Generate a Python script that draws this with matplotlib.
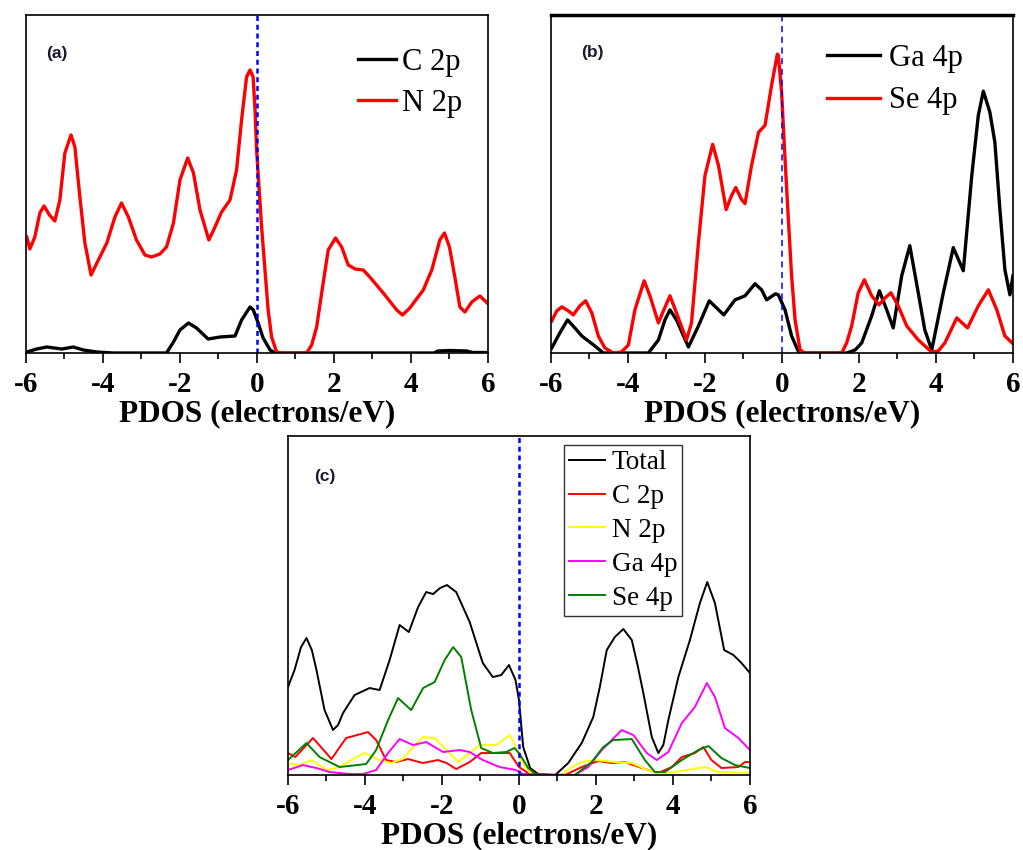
import matplotlib
matplotlib.use("Agg")
import matplotlib.pyplot as plt
from matplotlib.ticker import MultipleLocator

plt.rcParams['font.family'] = ['Liberation Serif', 'DejaVu Serif']
plt.rcParams['axes.unicode_minus'] = False

# ---- panel (a): C 2p / N 2p ----
a_n2p_e = [-5.98, -5.90, -5.77, -5.64, -5.53, -5.39, -5.25, -5.12, -4.99, -4.83, -4.73, -4.60,
           -4.47, -4.31, -4.12, -3.90, -3.69, -3.52, -3.34, -3.13, -2.91, -2.74, -2.52, -2.35,
           -2.17, -2.00, -1.80, -1.65, -1.48, -1.25, -1.09, -0.92, -0.70, -0.53, -0.40, -0.27,
           -0.18, -0.10, -0.05, -0.01, 0.12, 0.29, 0.38, 0.51, 0.68, 1.29, 1.42, 1.55, 1.68,
           1.85, 2.04, 2.20, 2.37, 2.55, 2.76, 2.93, 3.28, 3.63, 3.78, 3.97, 4.32, 4.54, 4.75,
           4.87, 5.00, 5.14, 5.27, 5.40, 5.58, 5.79, 5.98]
a_n2p = [116, 104, 116, 140, 147, 138, 132, 153, 200, 218, 206, 156,
         110, 78, 93, 110, 136, 150, 136, 113, 98, 96, 99, 106,
         130, 173, 195, 180, 143, 113, 126, 141, 153, 183, 233, 276,
         283, 276, 243, 203, 126, 43, 16, 1, 0, 0, 8, 26, 60,
         103, 115, 106, 88, 84, 83, 76, 60, 43, 38, 45, 63, 83, 113,
         120, 106, 76, 46, 41, 51, 57, 50]

a_c2p_e = [-5.98, -5.72, -5.46, -5.07, -4.77, -4.51, -4.16, -3.73, -2.35, -2.17, -2.00, -1.78,
           -1.57, -1.27, -0.96, -0.57, -0.40, -0.18, -0.095, 0.03, 0.16, 0.34, 0.47, 4.6, 4.7,
           5.0, 5.45, 5.6, 6.0]
a_c2p = [1, 4, 6, 4, 6, 3, 1, 0, 0, 11, 23, 30,
         25, 14, 16, 17, 33, 46, 43, 30, 15, 3, 0, 0, 2,
         2.5, 2, 0.5, 0.5]

# ---- panel (b): Ga 4p / Se 4p ----
b_se4p_e = [-5.98, -5.85, -5.72, -5.55, -5.42, -5.25, -5.10, -4.94, -4.77, -4.60, -4.38, -4.17,
            -3.99, -3.82, -3.58, -3.43, -3.21, -3.08, -2.91, -2.74, -2.48, -2.35, -2.17, -2.00,
            -1.80, -1.65, -1.45, -1.31, -1.20, -1.05, -0.96, -0.79, -0.61, -0.44, -0.27, -0.12,
            -0.095, -0.01, 0.08, 0.16, 0.25, 0.34, 0.47, 0.60, 1.55, 1.68, 1.81, 1.98, 2.14,
            2.33, 2.52, 2.68, 2.83, 3.02, 3.24, 3.54, 3.89, 4.06, 4.23, 4.54, 4.82, 5.10, 5.36,
            5.58, 5.79, 5.98]
b_se4p = [32, 42, 46, 42, 38, 47, 52, 40, 17, 5, 0, 1,
          8, 43, 72, 57, 30, 42, 57, 40, 13, 30, 110, 177,
          208, 187, 143, 157, 165, 153, 149, 187, 220, 227, 267, 298,
          297, 260, 193, 137, 77, 33, 3, 0, 0, 10, 27, 60, 73,
          57, 48, 55, 60, 47, 27, 13, 1, 2, 10, 35, 25, 47, 63,
          43, 17, 10]

b_ga4p_e = [-5.98, -5.77, -5.57, -5.38, -5.20, -4.86, -4.64, -3.47, -3.21, -3.04, -2.91, -2.74,
            -2.43, -2.17, -1.89, -1.70, -1.51, -1.22, -0.96, -0.70, -0.53, -0.40, -0.17, -0.095,
            0.08, 0.25, 0.42, 0.60, 1.68, 1.90, 2.07, 2.33, 2.53, 2.72, 2.89, 3.11, 3.32, 3.54,
            3.71, 3.89, 4.19, 4.45, 4.71, 4.93, 5.10, 5.23, 5.40, 5.53, 5.66, 5.79, 5.92, 6.0]
b_ga4p = [5, 20, 33, 25, 17, 7, 0, 0, 13, 33, 43, 33,
          6, 27, 52, 45, 38, 53, 57, 69, 63, 53, 59, 58,
          43, 17, 2, 0, 0, 3, 10, 37, 62, 43, 25, 77, 107, 60,
          23, 3, 60, 105, 82, 177, 237, 261, 240, 210, 143, 83, 58, 77]

# ---- panel (c): total and projected ----
c_tot_e = [-6.0, -5.83, -5.66, -5.52, -5.38, -5.26, -5.05, -4.83, -4.70, -4.57, -4.27, -3.88,
           -3.62, -3.36, -3.10, -2.86, -2.62, -2.41, -2.23, -2.05, -1.87, -1.63, -1.28, -0.94,
           -0.68, -0.46, -0.26, -0.09, 0.0, 0.11, 0.29, 0.5, 0.94, 1.28, 1.63, 1.93, 2.10, 2.28,
           2.49, 2.71, 2.93, 3.08, 3.23, 3.45, 3.62, 3.75, 3.88, 4.14, 4.44, 4.70, 4.89, 5.09,
           5.33, 5.57, 5.78, 6.0]
c_tot = [88, 105, 128, 137, 125, 105, 65, 45, 50, 62, 80, 87,
         85, 115, 150, 143, 168, 183, 181, 187, 190, 183, 153, 112,
         98, 100, 110, 95, 75, 28, 7, 1, 0, 12, 32, 58, 88, 125,
         138, 146, 135, 110, 82, 38, 22, 30, 55, 98, 135, 172, 193, 172,
         125, 120, 112, 102]

c_c2p_e = [-6.0, -5.81, -5.35, -4.87, -4.49, -3.92, -3.71, -3.45, -3.19, -2.88, -2.5, -2.10,
           -1.88, -1.63, -1.28, -0.98, -0.50, -0.24, 0.0, 0.12, 0.3, 1.2, 1.63, 2.06, 2.41,
           2.75, 3.19, 3.62, 3.97, 4.23, 4.57, 4.79, 5.0, 5.26, 5.70, 5.87, 6.0]
c_c2p = [22, 18, 37, 16, 37, 43, 35, 15, 13, 16, 12, 15,
         12, 6, 13, 22, 22, 22, 8, 5, 0, 0, 8, 14, 12,
         13, 7, 2, 8, 18, 22, 28, 15, 7, 8, 13, 13]

c_n2p_e = [-6.0, -5.7, -5.39, -5.0, -4.66, -4.36, -4.01, -3.62, -3.32, -3.02, -2.75, -2.49,
           -2.19, -1.88, -1.58, -1.28, -1.02, -0.59, -0.24, -0.07, 0.0, 0.17, 0.35, 1.1, 1.37,
           1.63, 1.97, 2.49, 2.93, 3.27, 3.62, 4.05, 4.49, 4.83, 5.18, 6.0]
c_n2p = [12, 10, 15, 5, 8, 15, 22, 15, 12, 16, 28, 38,
         37, 25, 13, 22, 30, 30, 40, 28, 18, 8, 0, 0, 8,
         13, 15, 13, 12, 6, 2, 3, 6, 8, 3, 2]

c_ga4p_e = [-6.0, -5.61, -5.26, -4.92, -4.4, -4.05, -3.71, -3.40, -3.10, -2.75, -2.41, -1.97,
            -1.54, -1.28, -0.94, -0.50, -0.08, 0.1, 1.45, 1.80, 2.15, 2.67, 2.97, 3.32, 3.58,
            3.88, 4.23, 4.57, 4.88, 5.09, 5.35, 5.70, 6.0]
c_ga4p = [5, 10, 7, 3, 1, 1, 5, 22, 36, 30, 33, 23,
          25, 23, 15, 8, 5, 1, 0, 8, 25, 45, 40, 22, 15,
          23, 52, 68, 92, 78, 47, 37, 25]

c_se4p_e = [-6.0, -5.52, -5.18, -4.66, -3.97, -3.71, -3.40, -3.14, -2.80, -2.49, -2.19, -1.93,
            -1.71, -1.50, -1.24, -0.98, -0.68, -0.33, -0.12, 0.0, 0.24, 0.45, 1.45, 1.89, 2.19,
            2.45, 2.93, 3.27, 3.53, 3.79, 4.23, 4.66, 4.92, 5.26, 5.61, 6.0]
c_se4p = [15, 32, 18, 8, 11, 25, 55, 77, 65, 87, 93, 115,
          128, 118, 65, 27, 22, 23, 27, 22, 7, 0, 0, 13, 28,
          35, 36, 15, 3, 3, 15, 25, 29, 17, 10, 7]

xticks = [-6, -4, -2, 0, 2, 4, 6]
xlabel = "PDOS (electrons/eV)"

fig = plt.figure(figsize=(10.23, 8.5), dpi=100)
ax_a = fig.add_axes([0.0254, 0.5847, 0.4516, 0.3977])
ax_b = fig.add_axes([0.5386, 0.5847, 0.4516, 0.3977])
ax_c = fig.add_axes([0.2815, 0.0882, 0.4516, 0.3988])


def style_axis(ax, ytop, tag, tag_xy):
    ax.set_xlim(-6, 6)
    ax.set_ylim(0, ytop)
    ax.set_xticks(xticks)
    ax.xaxis.set_minor_locator(MultipleLocator(1))
    ax.set_yticks([])
    ax.tick_params(axis='x', which='major', direction='out', length=7, width=1.2, pad=6)
    ax.tick_params(axis='x', which='minor', direction='out', length=4, width=1.2)
    for lab in ax.get_xticklabels():
        lab.set_fontsize(21)
        lab.set_fontweight('bold')
    for sp in ax.spines.values():
        sp.set_linewidth(1.2)
    ax.set_xlabel(xlabel, fontsize=22.5, fontweight='bold', labelpad=1)
    ax.text(tag_xy[0], tag_xy[1], tag, transform=ax.transAxes, fontsize=12.5,
            fontweight='bold', family='Liberation Sans', color='#1a1a2e',
            ha='center', va='center')


# (a)
ax_a.plot(a_c2p_e, a_c2p, color='black', lw=2.4, label='C 2p')
ax_a.plot(a_n2p_e, a_n2p, color='red', lw=2.4, label='N 2p')
ax_a.axvline(0, color='blue', lw=1.8, ls=(0, (2, 1.5)))
style_axis(ax_a, 338, '(a)', (0.067, 0.885))
ax_a.legend(loc='upper left', bbox_to_anchor=(0.719, 0.902), frameon=False, fontsize=22,
            handlelength=1.25, handletextpad=0.2, borderpad=0, borderaxespad=0, labelspacing=0.38)

# (b)
ax_b.plot(b_ga4p_e, b_ga4p, color='black', lw=2.4, label='Ga 4p')
ax_b.plot(b_se4p_e, b_se4p, color='red', lw=2.4, label='Se 4p')
ax_b.axvline(0, color='blue', lw=1.1, ls=(0, (4, 3)))
style_axis(ax_b, 337, '(b)', (0.09, 0.89))
ax_b.spines['top'].set_linewidth(2.5)
ax_b.legend(loc='upper left', bbox_to_anchor=(0.597, 0.915), frameon=False, fontsize=22,
            handlelength=1.75, handletextpad=0.3, borderpad=0, borderaxespad=0, labelspacing=0.45)

# (c)
ax_c.plot(c_tot_e, c_tot, color='black', lw=1.4, label='Total')
ax_c.plot(c_c2p_e, c_c2p, color='#ff0000', lw=1.4, label='C 2p')
ax_c.plot(c_n2p_e, c_n2p, color='#ffff00', lw=1.4, label='N 2p')
ax_c.plot(c_ga4p_e, c_ga4p, color='#ff00ff', lw=1.4, label='Ga 4p')
ax_c.plot(c_se4p_e, c_se4p, color='#008000', lw=1.4, label='Se 4p')
ax_c.axvline(0, color='blue', lw=1.8, ls=(0, (2, 1.5)))
style_axis(ax_c, 339, '(c)', (0.08, 0.88))
leg = ax_c.legend(loc='upper left', bbox_to_anchor=(0.597, 0.973), frameon=True, fancybox=False,
                  fontsize=19.5, handlelength=1.35, handletextpad=0.25, borderpad=0.18,
                  borderaxespad=0, labelspacing=0.33)
leg.get_frame().set_edgecolor('black')
leg.get_frame().set_linewidth(1.0)

plt.savefig("out.png", dpi=100)
